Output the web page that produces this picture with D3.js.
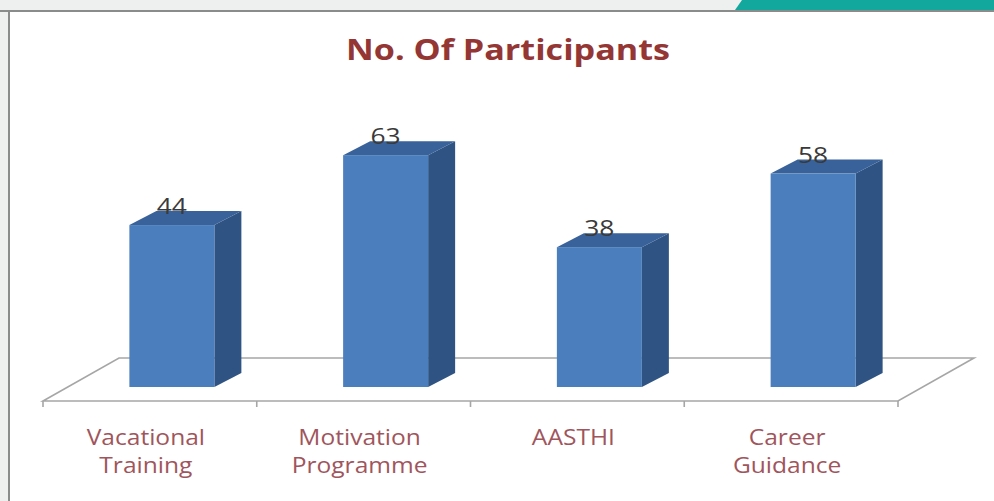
<!DOCTYPE html>
<html>
<head>
<meta charset="utf-8">
<script src="https://cdn.jsdelivr.net/npm/d3@7"></script>
<style>
  html, body { margin: 0; padding: 0; background: #eef0f0; }
  svg { display: block; }
</style>
</head>
<body>
<svg id="chart" width="994" height="501"></svg>
<script>
// data
const categories = [["Vacational", "Training"], ["Motivation", "Programme"], ["AASTHI"], ["Career", "Guidance"]];
const participants = [44, 63, 38, 58];
const chartTitle = "No. Of Participants";

const W = 994, H = 501;
const svg = d3.select("#chart");
const font = "'Open Sans', sans-serif";
// the slide text is a little stretched sideways
const stretch = (px, py, sx) => `translate(${px},${py}) scale(${sx},1)`;

// slide frame
svg.append("rect").attr("x", 9).attr("y", 11).attr("width", W).attr("height", H)
	.attr("fill", "#ffffff").attr("stroke", "#8a8c8c").attr("stroke-width", 2);
svg.append("path").attr("d", "M735,10 L742,0 L994,0 L994,10 Z").attr("fill", "#13a89e");
svg.append("line").attr("x1", 0).attr("x2", W).attr("y1", 11).attr("y2", 11)
	.attr("stroke", "#8a8c8c").attr("stroke-width", 2);

// floor geometry
const floorLeft = 43, floorRight = 898, floorY = 401;
const floorDx = 76, floorDy = -42;
const barDx = 27, barDy = -14;

const x = d3.scaleBand().domain(d3.range(categories.length)).range([floorLeft, floorRight]);
const y = d3.scaleLinear().domain([0, 70]).range([387, 129.4]);
const barW = 85;
const frontX = i => x(i) + x.bandwidth() / 2 + 22 - barW / 2;

// floor
const floor = svg.append("g").attr("fill", "none").attr("stroke", "#a6a6a6").attr("stroke-width", 1.6);
floor.append("path").attr("d",
	`M${floorLeft},${floorY} L${floorLeft + floorDx},${floorY + floorDy - 1} L${floorRight + floorDx},${floorY + floorDy - 1} L${floorRight},${floorY} Z`);
floor.selectAll("line.tick").data(d3.range(categories.length + 1)).join("line")
	.attr("x1", i => i < categories.length ? x(i) : floorRight)
	.attr("x2", i => i < categories.length ? x(i) : floorRight)
	.attr("y1", floorY).attr("y2", floorY + 6);

// bars
const bars = svg.append("g").selectAll("g").data(participants).join("g");
bars.append("path").attr("fill", "#2f5483")
	.attr("d", (d, i) => {
		const x1 = frontX(i) + barW, y0 = y(0), y1 = y(d);
		return `M${x1},${y0} L${x1 + barDx},${y0 + barDy} L${x1 + barDx},${y1 + barDy} L${x1},${y1} Z`;
	});
bars.append("path").attr("fill", "#386299")
	.attr("d", (d, i) => {
		const x0 = frontX(i), y1 = y(d);
		return `M${x0},${y1} L${x0 + barDx},${y1 + barDy} L${x0 + barW + barDx},${y1 + barDy} L${x0 + barW},${y1} Z`;
	});
bars.append("rect").attr("fill", "#4a7ebc")
	.attr("x", (d, i) => frontX(i)).attr("y", d => y(d))
	.attr("width", barW).attr("height", d => y(0) - y(d));

// value labels
bars.append("text")
	.attr("transform", (d, i) => stretch(frontX(i) + barW / 2, y(d) + barDy + 3, 1.2))
	.attr("text-anchor", "middle")
	.attr("font-family", font)
	.attr("font-size", 22).attr("fill", "#3a3a3a")
	.text(d => d);

// category labels
const labels = svg.append("g").selectAll("text").data(categories).join("text")
	.attr("transform", (d, i) => stretch(x(i) + x.bandwidth() / 2 - 4, 445, 1.17))
	.attr("text-anchor", "middle")
	.attr("font-family", font)
	.attr("font-size", 21).attr("fill", "#a0555c");
labels.selectAll("tspan").data(d => d).join("tspan")
	.attr("x", 0)
	.attr("dy", (d, j) => j === 0 ? 0 : 28)
	.text(d => d);

// title
svg.append("text").attr("transform", stretch(508, 60, 1.22)).attr("text-anchor", "middle")
	.attr("font-family", font).attr("font-weight", "bold")
	.attr("font-size", 28).attr("fill", "#943634")
	.text(chartTitle);
</script>
</body>
</html>
